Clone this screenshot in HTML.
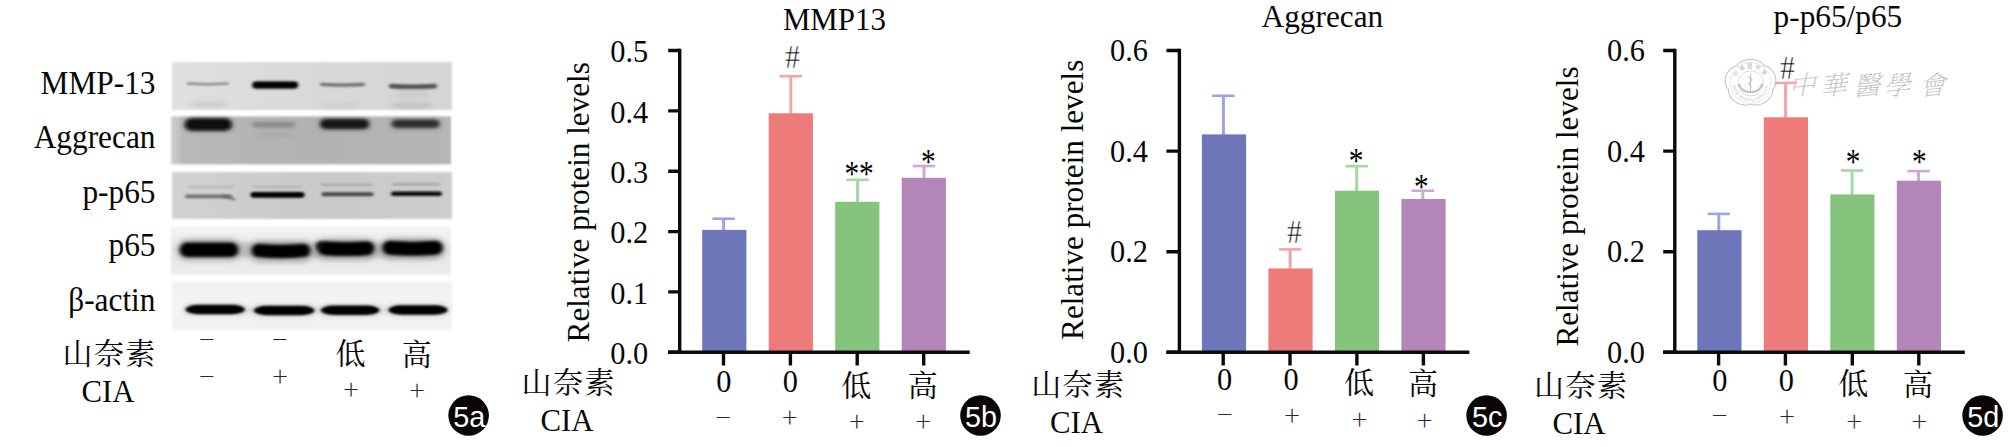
<!DOCTYPE html>
<html lang="zh"><head><meta charset="utf-8"><title>Figure 5</title>
<style>
html,body{margin:0;padding:0;background:#fff;}
body{width:2008px;height:447px;overflow:hidden;}
svg{display:block;}
text{font-family:"Liberation Serif", "Noto Serif CJK SC", serif;fill:#080808;}
.cj{font-family:"Noto Serif CJK SC","Liberation Serif",serif;font-weight:400;}
.sym{font-family:"Noto Serif CJK SC","Liberation Serif",serif;font-weight:400;fill:#2a2a2a;}
.lab{font-family:"Liberation Sans", "Noto Sans CJK SC", sans-serif;fill:#fff;}
</style></head><body>
<svg width="2008" height="447" viewBox="0 0 2008 447">
<defs>
<filter id="b1" filterUnits="userSpaceOnUse" x="160" y="50" width="310" height="300"><feGaussianBlur stdDeviation="1.6 1.1"/></filter>
<filter id="b2" filterUnits="userSpaceOnUse" x="160" y="50" width="310" height="300"><feGaussianBlur stdDeviation="2.2 1.6"/></filter>
<filter id="b3" filterUnits="userSpaceOnUse" x="160" y="50" width="310" height="300"><feGaussianBlur stdDeviation="3 2.2"/></filter>
<filter id="be" x="-5%" y="-10%" width="110%" height="120%"><feGaussianBlur stdDeviation="0.9"/></filter>
<filter id="bt" x="-5%" y="-5%" width="110%" height="110%"><feGaussianBlur stdDeviation="0.35"/></filter>
</defs>
<rect width="2008" height="447" fill="#fff"/>

<g id="wb">
<linearGradient id="g1" x1="0" x2="1" y1="0" y2="0"><stop offset="0" stop-color="#e0e0e0"/><stop offset=".5" stop-color="#d9d9d9"/><stop offset="1" stop-color="#d5d5d5"/></linearGradient>
<linearGradient id="g2" x1="0" x2="1" y1="0" y2="0"><stop offset="0" stop-color="#d2d2d2"/><stop offset=".04" stop-color="#b9b9b9"/><stop offset=".5" stop-color="#b2b2b2"/><stop offset="1" stop-color="#b6b6b6"/></linearGradient>
<linearGradient id="g3" x1="0" x2="1" y1="0" y2="0"><stop offset="0" stop-color="#d2d2d2"/><stop offset=".5" stop-color="#c9c9c9"/><stop offset="1" stop-color="#cecece"/></linearGradient>
<linearGradient id="g4" x1="0" x2="0" y1="0" y2="1"><stop offset="0" stop-color="#f4f4f4"/><stop offset=".5" stop-color="#e6e6e6"/><stop offset="1" stop-color="#ededed"/></linearGradient>
<linearGradient id="g5" x1="0" x2="0" y1="0" y2="1"><stop offset="0" stop-color="#f1f1f1"/><stop offset=".55" stop-color="#f5f5f5"/><stop offset="1" stop-color="#f0f0f0"/></linearGradient>
<rect x="172" y="62" width="280" height="48" fill="url(#g1)" filter="url(#be)"/>
<rect x="171" y="116.4" width="280" height="48" fill="url(#g2)" filter="url(#be)"/>
<rect x="172" y="172" width="280" height="47" fill="url(#g3)" filter="url(#be)"/>
<rect x="171" y="226" width="280" height="49" fill="url(#g4)" filter="url(#be)"/>
<rect x="172" y="282" width="280" height="48" fill="url(#g5)" filter="url(#be)"/>
<rect x="191.0" y="102.5" width="34" height="4" rx="2.0" fill="#bcbcbc" opacity="0.7" filter="url(#b3)"/>
<rect x="393.0" y="103.2" width="38" height="4" rx="2.0" fill="#b4b4b4" opacity="0.8" filter="url(#b3)"/>
<rect x="323.0" y="104.0" width="34" height="3" rx="1.5" fill="#c4c4c4" opacity="0.7" filter="url(#b3)"/>
<rect x="398.0" y="90.0" width="30" height="8" rx="4.0" fill="#c6c6c6" opacity="0.6" filter="url(#b3)"/>
<path d="M187.8 83.5Q207.8 85.1 227.7 83.5" stroke="#777" stroke-width="2.6" stroke-linecap="round" fill="none" opacity="0.8" filter="url(#b1)"/>
<rect x="252.4" y="81.4" width="45.5" height="7.4" rx="3.7" fill="#1a1a1a" opacity="0.5" filter="url(#b2)"/>
<rect x="252.7" y="81.7" width="45" height="6.6" rx="3.3" fill="#050505" opacity="1" filter="url(#b1)"/>
<path d="M321.6 84.4Q342.5 86.0 363.4 84.4" stroke="#5a5a5a" stroke-width="3.2" stroke-linecap="round" fill="none" opacity="0.85" filter="url(#b1)"/>
<path d="M391.3 86.1Q413.0 87.3 434.7 86.1" stroke="#444" stroke-width="4.6" stroke-linecap="round" fill="none" opacity="0.9" filter="url(#b1)"/>
<rect x="184.8" y="118.3" width="47" height="13" rx="6.5" fill="#222" opacity="0.55" filter="url(#b3)"/>
<rect x="185.3" y="118.8" width="46" height="11.5" rx="5.75" fill="#0a0a0a" opacity="1" filter="url(#b2)"/>
<rect x="252.2" y="121.8" width="43" height="6" rx="3.0" fill="#808080" opacity="0.75" filter="url(#b2)"/>
<rect x="255.7" y="132.5" width="36" height="4" rx="2.0" fill="#a0a0a0" opacity="0.6" filter="url(#b3)"/>
<rect x="320.1" y="118.7" width="49" height="11" rx="5.5" fill="#333" opacity="0.5" filter="url(#b3)"/>
<rect x="320.6" y="119.2" width="48" height="9.5" rx="4.75" fill="#141414" opacity="1" filter="url(#b2)"/>
<rect x="391.5" y="119.0" width="48" height="10" rx="5.0" fill="#444" opacity="0.5" filter="url(#b3)"/>
<rect x="392.0" y="120.0" width="47" height="7.6" rx="3.8" fill="#2c2c2c" opacity="0.95" filter="url(#b2)"/>
<path d="M186.8 196.3Q208.5 196.3 230.2 196.3" stroke="#666" stroke-width="3.7" stroke-linecap="round" fill="none" opacity="0.9" filter="url(#b1)"/>
<path d="M224 196.5Q230 197 234 199.3" stroke="#666" stroke-width="2.6" stroke-linecap="round" fill="none" opacity=".85" filter="url(#b1)"/>
<rect x="250.5" y="191.9" width="54" height="5.8" rx="2.9" fill="#060606" opacity="1" filter="url(#b1)"/>
<rect x="321.5" y="192.2" width="52" height="4.0" rx="2.0" fill="#3a3a3a" opacity="0.92" filter="url(#b1)"/>
<rect x="391.0" y="191.5" width="51" height="4.6" rx="2.3" fill="#0c0c0c" opacity="1" filter="url(#b1)"/>
<rect x="188.0" y="186.0" width="46" height="1.6" rx="0.8" fill="#999" opacity="0.6" filter="url(#b1)"/>
<rect x="252.0" y="185.8" width="50" height="1.6" rx="0.8" fill="#999" opacity="0.55" filter="url(#b1)"/>
<rect x="321.0" y="183.8" width="52" height="2" rx="1.0" fill="#8a8a8a" opacity="0.6" filter="url(#b1)"/>
<rect x="392.0" y="183.1" width="48" height="2.2" rx="1.1" fill="#888" opacity="0.65" filter="url(#b1)"/>
<rect x="180.0" y="242.5" width="262" height="15" rx="7.5" fill="#9a9a9a" opacity="0.5" filter="url(#b3)"/>
<rect x="176.6" y="238.3" width="65" height="23" rx="11.5" fill="#8a8a8a" opacity="0.5" filter="url(#b3)"/>
<rect x="248.5" y="240.1" width="65" height="23" rx="11.5" fill="#8a8a8a" opacity="0.5" filter="url(#b3)"/>
<rect x="313.6" y="237.7" width="64" height="23" rx="11.5" fill="#8a8a8a" opacity="0.5" filter="url(#b3)"/>
<rect x="379.5" y="237.2" width="66" height="23" rx="11.5" fill="#8a8a8a" opacity="0.5" filter="url(#b3)"/>
<rect x="179.8" y="242.6" width="58.5" height="14.5" rx="7.25" fill="#040404" opacity="1" filter="url(#b2)"/>
<path d="M258.4 250.4Q281.0 252.7 303.6 250.4" stroke="#060606" stroke-width="13.5" stroke-linecap="round" fill="none" opacity="1" filter="url(#b2)"/>
<path d="M324.5 248.2Q345.9 249.9 367.3 248.2" stroke="#040404" stroke-width="14" stroke-linecap="round" fill="none" opacity="1" filter="url(#b2)"/>
<path d="M389.4 247.8Q412.5 249.5 435.7 247.8" stroke="#040404" stroke-width="14" stroke-linecap="round" fill="none" opacity="1" filter="url(#b2)"/>
<rect x="316.5" y="241.5" width="8" height="8" rx="4.0" fill="#111" opacity="0.9" filter="url(#b2)"/>
<rect x="185.0" y="307.0" width="262" height="6" rx="3.0" fill="#b8b8b8" opacity="0.4" filter="url(#b3)"/>
<rect x="184.3" y="303.0" width="61.7" height="13" rx="6.5" fill="#b0b0b0" opacity="0.45" filter="url(#b3)"/>
<rect x="185.6" y="304.8" width="59.2" height="9.4" rx="13" ry="4.7" fill="#030303" opacity="1" filter="url(#b1)"/>
<rect x="252.6" y="304.0" width="63" height="13" rx="6.5" fill="#b0b0b0" opacity="0.45" filter="url(#b3)"/>
<rect x="253.9" y="305.8" width="60.5" height="9.4" rx="13" ry="4.7" fill="#030303" opacity="1" filter="url(#b1)"/>
<rect x="319.7" y="303.7" width="61" height="13" rx="6.5" fill="#b0b0b0" opacity="0.45" filter="url(#b3)"/>
<rect x="320.9" y="305.5" width="58.5" height="9.4" rx="13" ry="4.7" fill="#030303" opacity="1" filter="url(#b1)"/>
<rect x="387.1" y="303.5" width="61.7" height="13" rx="6.5" fill="#b0b0b0" opacity="0.45" filter="url(#b3)"/>
<rect x="388.4" y="305.3" width="59.2" height="9.4" rx="13" ry="4.7" fill="#030303" opacity="1" filter="url(#b1)"/>
<text transform="translate(155.5,94.1) scale(1.028,1.09)" font-size="30.5" text-anchor="end">MMP-13</text>
<text transform="translate(155.5,147.6) scale(1.028,1.09)" font-size="30.5" text-anchor="end">Aggrecan</text>
<text transform="translate(155.5,202.9) scale(1.028,1.09)" font-size="30.5" text-anchor="end">p-p65</text>
<text transform="translate(155.5,256.4) scale(1.028,1.09)" font-size="30.5" text-anchor="end">p65</text>
<text transform="translate(155.5,311.2) scale(1.028,1.09)" font-size="30.5" text-anchor="end">β-actin</text>
<text class="cj" x="109.6" y="364.1" font-size="30" text-anchor="middle" letter-spacing="1.4">山奈素</text>
<text transform="translate(108.0,402.2) scale(1.01,1.05)" font-size="30.5" text-anchor="middle">CIA</text>
<text class="sym" x="206.8" y="348.6" font-size="26" text-anchor="middle">−</text>
<text class="sym" x="279.9" y="348.6" font-size="26" text-anchor="middle">−</text>
<text class="cj" x="350.6" y="364.3" font-size="30" text-anchor="middle">低</text>
<text class="cj" x="416.8" y="364.8" font-size="30" text-anchor="middle">高</text>
<text class="sym" x="206.8" y="385.8" font-size="26" text-anchor="middle">−</text>
<text class="sym" x="280.1" y="385.8" font-size="26" text-anchor="middle">+</text>
<text class="sym" x="351.1" y="398.9" font-size="26" text-anchor="middle">+</text>
<text class="sym" x="417" y="399.5" font-size="26" text-anchor="middle">+</text>
</g>
<circle cx="468.6" cy="415.5" r="20.3" fill="#0a0606"/>
<text class="lab" x="469.20000000000005" y="426.9" font-size="28.8" text-anchor="middle" style="fill:#fff">5a</text>
<g id="c5b">
<text transform="translate(834.4,30.0) scale(1.013,1.06)" font-size="30.5" text-anchor="middle">MMP13</text>
<text transform="translate(588.6,202.3) rotate(-90) scale(1.005,1)" font-size="31" text-anchor="middle">Relative protein levels</text>
<path d="M723.6 230.9V218.7" stroke="#9fa3e0" stroke-width="3" fill="none"/><path d="M712.4 218.7H734.8" stroke="#9fa3e0" stroke-width="2.6" fill="none"/>
<rect x="702.2" y="229.9" width="44.2" height="122.4" fill="#6d76b9"/>
<path d="M790.8 114.3V76.2" stroke="#f6a3a8" stroke-width="3" fill="none"/><path d="M779.6 76.2H802.0" stroke="#f6a3a8" stroke-width="2.6" fill="none"/>
<rect x="768.7" y="113.3" width="44.2" height="239.0" fill="#ee7a7a"/>
<text transform="translate(792.4,68.2) scale(1,1.1)" font-size="30" text-anchor="middle" stroke="#fff" stroke-width="0.45">#</text>
<path d="M857.6 202.8V179.8" stroke="#a4d9a0" stroke-width="3" fill="none"/><path d="M846.4 179.8H868.8" stroke="#a4d9a0" stroke-width="2.6" fill="none"/>
<rect x="835.2" y="201.8" width="44.2" height="150.5" fill="#85c47d"/>
<text transform="translate(859.1,186.0) scale(0.98,1.2)" font-size="30" text-anchor="middle">**</text>
<path d="M924.0 178.8V166.0" stroke="#d3a6d8" stroke-width="3" fill="none"/><path d="M912.8 166.0H935.2" stroke="#d3a6d8" stroke-width="2.6" fill="none"/>
<rect x="901.7" y="177.8" width="44.2" height="174.5" fill="#b385b9"/>
<text transform="translate(928.3,173.6) scale(0.98,1.2)" font-size="30" text-anchor="middle">*</text>
<path d="M679.7 48.8V352.3M668.2 352.3H969.7" stroke="#0a0a0a" stroke-width="3.4" fill="none" stroke-linecap="butt"/>
<text transform="translate(648.3,363.9) scale(0.995,1.06)" font-size="30.5" text-anchor="end">0.0</text>
<text transform="translate(648.3,303.5) scale(0.995,1.06)" font-size="30.5" text-anchor="end">0.1</text>
<text transform="translate(648.3,243.2) scale(0.995,1.06)" font-size="30.5" text-anchor="end">0.2</text>
<text transform="translate(648.3,182.8) scale(0.995,1.06)" font-size="30.5" text-anchor="end">0.3</text>
<text transform="translate(648.3,122.5) scale(0.995,1.06)" font-size="30.5" text-anchor="end">0.4</text>
<text transform="translate(648.3,62.1) scale(0.995,1.06)" font-size="30.5" text-anchor="end">0.5</text>
<path d="M668.2 352.3H679.7M668.2 291.9H679.7M668.2 231.6H679.7M668.2 171.2H679.7M668.2 110.9H679.7M668.2 50.5H679.7M723.5 352.3V365.6M790.4 352.3V365.6M857.2 352.3V365.6M923.7 352.3V365.6" stroke="#0a0a0a" stroke-width="3.4" fill="none"/>
<text transform="translate(723.8,392.0) scale(0.995,1.06)" font-size="30.5" text-anchor="middle">0</text>
<text transform="translate(790.3,392.0) scale(0.995,1.06)" font-size="30.5" text-anchor="middle">0</text>
<text class="cj" x="856.3" y="396.0" font-size="30" text-anchor="middle">低</text>
<text class="cj" x="922.8" y="396.0" font-size="30" text-anchor="middle">高</text>
<text class="sym" x="723.3000000000001" y="426.8" font-size="26" text-anchor="middle">−</text>
<text class="sym" x="789.8000000000001" y="427.3" font-size="26" text-anchor="middle">+</text>
<text class="sym" x="856.8000000000001" y="431.3" font-size="26" text-anchor="middle">+</text>
<text class="sym" x="923.3000000000001" y="431.3" font-size="26" text-anchor="middle">+</text>
<text class="cj" x="568.7" y="393.1" font-size="30" text-anchor="middle" letter-spacing="1.4">山奈素</text>
<text transform="translate(567.0,431.4) scale(1.01,1.05)" font-size="30.5" text-anchor="middle">CIA</text>
</g>
<circle cx="980.5" cy="415.5" r="20.3" fill="#0a0606"/>
<text class="lab" x="981.1" y="426.9" font-size="28.8" text-anchor="middle" style="fill:#fff">5b</text>
<g id="c5c">
<text transform="translate(1322.4,27.0) scale(1.026,1.06)" font-size="30.5" text-anchor="middle">Aggrecan</text>
<text transform="translate(1082.7,199.8) rotate(-90) scale(1.005,1)" font-size="31" text-anchor="middle">Relative protein levels</text>
<path d="M1223.4 135.4V95.8" stroke="#9fa3e0" stroke-width="3" fill="none"/><path d="M1212.2 95.8H1234.6" stroke="#9fa3e0" stroke-width="2.6" fill="none"/>
<rect x="1201.9" y="134.4" width="44.2" height="217.9" fill="#6d76b9"/>
<path d="M1290.1 269.5V249.4" stroke="#f6a3a8" stroke-width="3" fill="none"/><path d="M1278.9 249.4H1301.3" stroke="#f6a3a8" stroke-width="2.6" fill="none"/>
<rect x="1268.4" y="268.5" width="44.2" height="83.8" fill="#ee7a7a"/>
<text transform="translate(1294.5,243.4) scale(1,1.1)" font-size="30" text-anchor="middle" stroke="#fff" stroke-width="0.45">#</text>
<path d="M1356.7 191.7V166.2" stroke="#a4d9a0" stroke-width="3" fill="none"/><path d="M1345.5 166.2H1367.9" stroke="#a4d9a0" stroke-width="2.6" fill="none"/>
<rect x="1334.9" y="190.7" width="44.2" height="161.6" fill="#85c47d"/>
<text transform="translate(1356.2,172.9) scale(0.98,1.2)" font-size="30" text-anchor="middle">*</text>
<path d="M1422.8 200.0V190.7" stroke="#d3a6d8" stroke-width="3" fill="none"/><path d="M1411.6 190.7H1434.0" stroke="#d3a6d8" stroke-width="2.6" fill="none"/>
<rect x="1401.4" y="199.0" width="44.2" height="153.3" fill="#b385b9"/>
<text transform="translate(1421.3,198.8) scale(0.98,1.2)" font-size="30" text-anchor="middle">*</text>
<path d="M1179.4 48.8V352.3M1166.4 352.3H1469.4" stroke="#0a0a0a" stroke-width="3.4" fill="none" stroke-linecap="butt"/>
<text transform="translate(1148.0,362.9) scale(0.995,1.06)" font-size="30.5" text-anchor="end">0.0</text>
<text transform="translate(1148.0,262.3) scale(0.995,1.06)" font-size="30.5" text-anchor="end">0.2</text>
<text transform="translate(1148.0,161.7) scale(0.995,1.06)" font-size="30.5" text-anchor="end">0.4</text>
<text transform="translate(1148.0,61.1) scale(0.995,1.06)" font-size="30.5" text-anchor="end">0.6</text>
<path d="M1166.4 352.3H1179.4M1166.4 251.7H1179.4M1166.4 151.1H1179.4M1166.4 50.5H1179.4M1223.2 352.3V365.6M1290.0 352.3V365.6M1356.9 352.3V365.6M1423.4 352.3V365.6" stroke="#0a0a0a" stroke-width="3.4" fill="none"/>
<text transform="translate(1224.7,389.6) scale(0.995,1.06)" font-size="30.5" text-anchor="middle">0</text>
<text transform="translate(1291.2,389.6) scale(0.995,1.06)" font-size="30.5" text-anchor="middle">0</text>
<text class="cj" x="1359.0" y="393.3" font-size="30" text-anchor="middle">低</text>
<text class="cj" x="1423.1" y="394.2" font-size="30" text-anchor="middle">高</text>
<text class="sym" x="1224.8" y="424.2" font-size="26" text-anchor="middle">−</text>
<text class="sym" x="1292.1" y="425.2" font-size="26" text-anchor="middle">+</text>
<text class="sym" x="1359.5" y="428.9" font-size="26" text-anchor="middle">+</text>
<text class="sym" x="1424.6" y="429.5" font-size="26" text-anchor="middle">+</text>
<text class="cj" x="1078.3" y="394.7" font-size="30" text-anchor="middle" letter-spacing="1.4">山奈素</text>
<text transform="translate(1076.6,433.1) scale(1.01,1.05)" font-size="30.5" text-anchor="middle">CIA</text>
</g>
<circle cx="1486.6" cy="415.5" r="20.3" fill="#0a0606"/>
<text class="lab" x="1487.1999999999998" y="426.9" font-size="28.8" text-anchor="middle" style="fill:#fff">5c</text>
<g id="c5d">
<text transform="translate(1837.9,26.7) scale(1.026,1.06)" font-size="30.5" text-anchor="middle">p-p65/p65</text>
<text transform="translate(1578.0,206.5) rotate(-90) scale(1.005,1)" font-size="31" text-anchor="middle">Relative protein levels</text>
<path d="M1718.8 231.2V213.9" stroke="#9fa3e0" stroke-width="3" fill="none"/><path d="M1707.6 213.9H1730.0" stroke="#9fa3e0" stroke-width="2.6" fill="none"/>
<rect x="1697.3" y="230.2" width="44.2" height="122.1" fill="#6d76b9"/>
<path d="M1785.6 118.3V82.9" stroke="#f6a3a8" stroke-width="3" fill="none"/><path d="M1774.4 82.9H1796.8" stroke="#f6a3a8" stroke-width="2.6" fill="none"/>
<rect x="1763.8" y="117.3" width="44.2" height="235.0" fill="#ee7a7a"/>
<text transform="translate(1787.4,79.4) scale(1,1.1)" font-size="30" text-anchor="middle" stroke="#fff" stroke-width="0.45">#</text>
<path d="M1852.1 195.4V170.5" stroke="#a4d9a0" stroke-width="3" fill="none"/><path d="M1840.9 170.5H1863.3" stroke="#a4d9a0" stroke-width="2.6" fill="none"/>
<rect x="1830.3" y="194.4" width="44.2" height="157.9" fill="#85c47d"/>
<text transform="translate(1853.2,173.9) scale(0.98,1.2)" font-size="30" text-anchor="middle">*</text>
<path d="M1918.5 181.7V171.1" stroke="#d3a6d8" stroke-width="3" fill="none"/><path d="M1907.3 171.1H1929.7" stroke="#d3a6d8" stroke-width="2.6" fill="none"/>
<rect x="1896.8" y="180.7" width="44.2" height="171.6" fill="#b385b9"/>
<text transform="translate(1919.3,173.9) scale(0.98,1.2)" font-size="30" text-anchor="middle">*</text>
<path d="M1674.8 48.8V352.3M1663.2 352.3H1964.8" stroke="#0a0a0a" stroke-width="3.4" fill="none" stroke-linecap="butt"/>
<text transform="translate(1644.9,362.9) scale(0.995,1.06)" font-size="30.5" text-anchor="end">0.0</text>
<text transform="translate(1644.9,262.3) scale(0.995,1.06)" font-size="30.5" text-anchor="end">0.2</text>
<text transform="translate(1644.9,161.7) scale(0.995,1.06)" font-size="30.5" text-anchor="end">0.4</text>
<text transform="translate(1644.9,61.1) scale(0.995,1.06)" font-size="30.5" text-anchor="end">0.6</text>
<path d="M1663.2 352.3H1674.8M1663.2 251.7H1674.8M1663.2 151.1H1674.8M1663.2 50.5H1674.8M1718.6 352.3V365.6M1785.4 352.3V365.6M1852.3 352.3V365.6M1918.8 352.3V365.6" stroke="#0a0a0a" stroke-width="3.4" fill="none"/>
<text transform="translate(1719.8,391.0) scale(0.995,1.06)" font-size="30.5" text-anchor="middle">0</text>
<text transform="translate(1786.3,391.0) scale(0.995,1.06)" font-size="30.5" text-anchor="middle">0</text>
<text class="cj" x="1853.2" y="394.0" font-size="30" text-anchor="middle">低</text>
<text class="cj" x="1917.9" y="394.8" font-size="30" text-anchor="middle">高</text>
<text class="sym" x="1719.6" y="424.7" font-size="26" text-anchor="middle">−</text>
<text class="sym" x="1787.1" y="425.5" font-size="26" text-anchor="middle">+</text>
<text class="sym" x="1854.3" y="430.8" font-size="26" text-anchor="middle">+</text>
<text class="sym" x="1919.3" y="431.3" font-size="26" text-anchor="middle">+</text>
<text class="cj" x="1581.2" y="396.0" font-size="30" text-anchor="middle" letter-spacing="1.4">山奈素</text>
<text transform="translate(1579.1,434.3) scale(1.01,1.05)" font-size="30.5" text-anchor="middle">CIA</text>
</g>
<circle cx="1982.6" cy="415.5" r="20.3" fill="#0a0606"/>
<text class="lab" x="1983.1999999999998" y="426.9" font-size="28.8" text-anchor="middle" style="fill:#fff">5d</text>
<g id="wm">
<path d="M1775.7 82.9 L1775.6 83.7 L1775.4 84.5 L1775.2 85.3 L1774.9 86.0 L1774.6 86.8 L1774.2 87.5 L1773.8 88.2 L1773.2 88.8 L1772.4 89.4 L1772.7 90.3 L1772.7 91.1 L1772.6 91.9 L1772.5 92.7 L1772.3 93.4 L1772.0 94.2 L1771.7 95.0 L1771.3 95.7 L1770.9 96.4 L1770.5 97.1 L1770.0 97.8 L1769.5 98.5 L1768.9 99.1 L1768.3 99.7 L1767.7 100.3 L1767.1 100.9 L1766.4 101.4 L1765.7 101.9 L1764.9 102.4 L1764.2 102.8 L1763.4 103.2 L1762.6 103.5 L1761.8 103.9 L1760.9 104.2 L1760.1 104.4 L1759.2 104.6 L1758.4 104.8 L1757.5 104.9 L1756.6 105.0 L1755.7 105.0 L1754.9 105.0 L1754.0 105.0 L1753.1 104.9 L1752.3 104.7 L1751.4 104.4 L1750.6 103.9 L1749.8 104.4 L1748.9 104.7 L1748.1 104.9 L1747.2 105.0 L1746.3 105.0 L1745.5 105.0 L1744.6 105.0 L1743.7 104.9 L1742.8 104.8 L1742.0 104.6 L1741.1 104.4 L1740.3 104.2 L1739.4 103.9 L1738.6 103.5 L1737.8 103.2 L1737.0 102.8 L1736.3 102.4 L1735.5 101.9 L1734.8 101.4 L1734.1 100.9 L1733.5 100.3 L1732.9 99.7 L1732.3 99.1 L1731.7 98.5 L1731.2 97.8 L1730.7 97.1 L1730.3 96.4 L1729.9 95.7 L1729.5 95.0 L1729.2 94.2 L1728.9 93.4 L1728.7 92.7 L1728.6 91.9 L1728.5 91.1 L1728.5 90.3 L1728.8 89.4 L1728.0 88.8 L1727.4 88.2 L1727.0 87.5 L1726.6 86.8 L1726.3 86.0 L1726.0 85.3 L1725.8 84.5 L1725.6 83.7 L1725.5 82.9 L1725.4 82.1 L1725.3 81.3 L1725.3 80.5 L1725.4 79.7 L1725.4 78.8 L1725.6 78.0 L1725.7 77.2 L1725.9 76.4 L1726.2 75.6 L1726.5 74.9 L1726.8 74.1 L1727.2 73.4 L1727.6 72.7 L1728.1 71.9 L1728.6 71.3 L1729.1 70.6 L1729.7 70.0 L1730.3 69.4 L1730.9 68.8 L1731.5 68.3 L1732.2 67.8 L1732.9 67.3 L1733.7 66.9 L1734.5 66.5 L1735.3 66.2 L1736.1 65.9 L1737.1 65.9 L1737.4 65.0 L1738.0 64.4 L1738.5 63.8 L1739.2 63.2 L1739.8 62.7 L1740.5 62.2 L1741.3 61.8 L1742.0 61.4 L1742.8 61.0 L1743.6 60.7 L1744.5 60.4 L1745.3 60.1 L1746.2 59.9 L1747.0 59.7 L1747.9 59.6 L1748.8 59.5 L1749.7 59.4 L1750.6 59.4 L1751.5 59.4 L1752.4 59.5 L1753.3 59.6 L1754.2 59.7 L1755.0 59.9 L1755.9 60.1 L1756.7 60.4 L1757.6 60.7 L1758.4 61.0 L1759.2 61.4 L1759.9 61.8 L1760.7 62.2 L1761.4 62.7 L1762.0 63.2 L1762.7 63.8 L1763.2 64.4 L1763.8 65.0 L1764.1 65.9 L1765.1 65.9 L1765.9 66.2 L1766.7 66.5 L1767.5 66.9 L1768.3 67.3 L1769.0 67.8 L1769.7 68.3 L1770.3 68.8 L1770.9 69.4 L1771.5 70.0 L1772.1 70.6 L1772.6 71.3 L1773.1 71.9 L1773.6 72.7 L1774.0 73.4 L1774.4 74.1 L1774.7 74.9 L1775.0 75.6 L1775.3 76.4 L1775.5 77.2 L1775.6 78.0 L1775.8 78.8 L1775.8 79.7 L1775.9 80.5 L1775.9 81.3 L1775.8 82.1 L1775.7 82.9Z" fill="none" stroke="#c6c6c6" stroke-width="1.1"/>
<circle cx="1750.6" cy="82.9" r="20.3" fill="none" stroke="#dcdcdc" stroke-width="0.7"/>
<circle cx="1750.6" cy="83.4" r="12.6" fill="none" stroke="#d4d4d4" stroke-width="0.8"/>
<path id="wmt" d="M1735.3999999999999 81.4A15.3 15.3 0 0 1 1765.8 81.4" fill="none"/>
<path id="wmb" d="M1733.0 85.9A17.8 17.8 0 0 0 1768.1999999999998 85.9" fill="none"/>
<text font-size="5.6" style="font-family:'Noto Sans CJK TC','Noto Sans CJK SC',sans-serif;fill:#bdbdbd" letter-spacing="1.6"><textPath href="#wmt" startOffset="50%" text-anchor="middle">中華醫學會</textPath></text>
<text font-size="3.7" style="font-family:'Liberation Sans',sans-serif;fill:#c2c2c2" letter-spacing="0.1"><textPath href="#wmb" startOffset="50%" text-anchor="middle">CHINESE MEDICAL ASSOCIATION</textPath></text>
<path d="M1739.1 84.4Q1741.6 92.4 1750.6 92.10000000000001Q1759.6 92.4 1762.1 84.4" fill="none" stroke="#b4b4b4" stroke-width="2" stroke-linecap="round" opacity=".8"/>
<path d="M1750.6 73.9V90.9M1747.6 76.9Q1754.6 78.9 1750.6 81.4Q1746.6 83.9 1751.6 86.9" fill="none" stroke="#c0c0c0" stroke-width="1"/>
<text transform="translate(1802.4,94.5) skewX(-18) rotate(-6)" font-size="26.5" text-anchor="middle" style="font-family:'Noto Serif CJK TC','Noto Serif CJK SC',serif;font-weight:200;fill:#c3c3c3">中</text>
<text transform="translate(1834,94.5) skewX(-18) rotate(-6)" font-size="26.5" text-anchor="middle" style="font-family:'Noto Serif CJK TC','Noto Serif CJK SC',serif;font-weight:200;fill:#c3c3c3">華</text>
<text transform="translate(1867.2,94.5) skewX(-18) rotate(-6)" font-size="26.5" text-anchor="middle" style="font-family:'Noto Serif CJK TC','Noto Serif CJK SC',serif;font-weight:200;fill:#c3c3c3">醫</text>
<text transform="translate(1897.5,94.5) skewX(-18) rotate(-6)" font-size="26.5" text-anchor="middle" style="font-family:'Noto Serif CJK TC','Noto Serif CJK SC',serif;font-weight:200;fill:#c3c3c3">學</text>
<text transform="translate(1932.7,94.5) skewX(-18) rotate(-6)" font-size="26.5" text-anchor="middle" style="font-family:'Noto Serif CJK TC','Noto Serif CJK SC',serif;font-weight:200;fill:#c3c3c3">會</text>
</g>
</svg></body></html>
